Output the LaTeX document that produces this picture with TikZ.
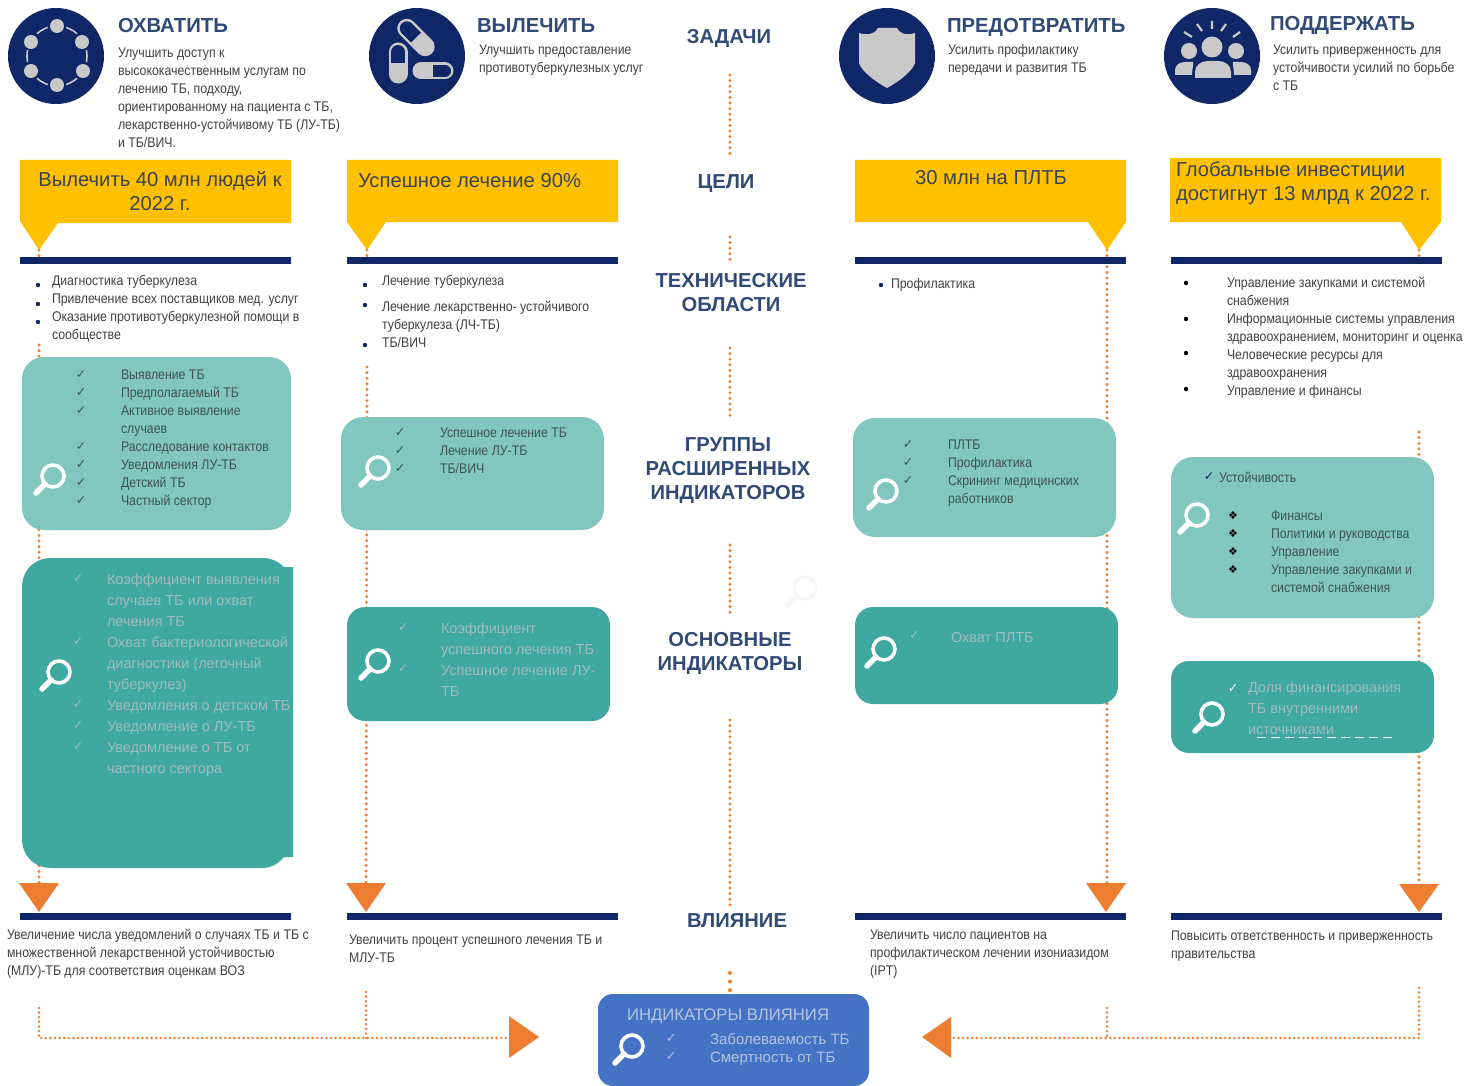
\documentclass[tikz,border=0pt]{standalone}
\usepackage{fontspec}
\setmainfont{Liberation Sans}
\newfontfamily\narrowf[FakeStretch=0.88]{Liberation Sans}
\newfontfamily\markf{DejaVu Sans}
\definecolor{navy}{HTML}{0F2767}
\definecolor{iconGrey}{HTML}{C9C9C9}
\definecolor{headBlue}{HTML}{2F4A75}
\definecolor{bodyGrey}{HTML}{404040}
\definecolor{goldY}{HTML}{FFC000}
\definecolor{orangeA}{HTML}{ED7D31}
\definecolor{tealL}{HTML}{81C6BF}
\definecolor{tealD}{HTML}{3EA8A1}
\definecolor{blueB}{HTML}{4472C4}
\definecolor{onDark}{HTML}{A0BDBA}
\definecolor{onBlue}{HTML}{B4C3E0}
\definecolor{onLight}{HTML}{3F5553}
\definecolor{goldTxt}{HTML}{3A4450}
\tikzset{
  x=1pt,y=-1pt,
  every node/.style={inner sep=0pt,outer sep=0pt},
  lbox/.style={fill=tealL,rounded corners=22pt},
  dbox/.style={fill=tealD,rounded corners=18pt},
  txtline/.style={anchor=north west,align=left,text=bodyGrey,yshift=-1pt,font=\narrowf\fontsize{14}{18}\selectfont},
  onl/.style={txtline,text=onLight},
  ond/.style={anchor=north west,align=left,yshift=-1pt,text=onDark,font=\fontsize{14.5}{21}\selectfont},
  head/.style={anchor=base west,text=headBlue,font=\bfseries\fontsize{20.3}{24}\selectfont},
  centre/.style={align=center,text=headBlue,font=\bfseries\fontsize{20.2}{24}\selectfont},
  goal/.style={text=goldTxt,font=\fontsize{20.2}{24}\selectfont},
  dots/.style={draw=orangeA,line width=3.3pt,line cap=round,dash pattern=on 0pt off 5.6pt},
  wdots/.style={dots,line width=4pt,dash pattern=on 0pt off 8.6pt},
  hdots/.style={dots,line width=2.8pt,dash pattern=on 0pt off 4.6pt},
  bar/.style={fill=navy},
  tri/.style={fill=orangeA},
  pics/lens/.style={code={
    \draw[#1,line width=3.6pt] (2,-2) circle[radius=11];
    \draw[#1,line width=5.5pt,line cap=round] (-6,6) -- (-15,15);
  }}
}
\newcommand{\pbox}[6]{\node[#1,anchor=north west,minimum width={(#5-#3)*1pt},minimum height={(#6-#4)*1pt}] (#2) at (#3,#4) {};}
\newcommand{\tx}[5]{\node[#1] (#2) at (#3,#4) {\strut #5};}
\newcommand{\ck}[4]{\node[text=#1,font=\markf\fontsize{12.5}{14}\selectfont] (#2) at (#3,#4) {✓};}
\newcommand{\dm}[3]{\node[text=black,font=\markf\fontsize{11}{12}\selectfont] (#1) at (#2,#3) {❖};}
\newcommand{\bul}[4]{\node[fill=#1,circle,minimum size=4.4pt] (#2) at (#3,#4) {};}
\newcommand{\pill}[5]{%
 \begin{scope}[shift={(#1,#2)},rotate=#3]
  \draw[iconGrey,line width=#4,line cap=round] (-#5,0) -- (#5,0);
  \draw[navy,line width=#4-5pt] (0,0) -- (#5,0);
  \fill[navy] (#5,0) circle[radius=#4/2-2.5pt];
 \end{scope}}
\begin{document}
\begin{tikzpicture}
\path[use as bounding box] (0,0) rectangle (1466,1086);
% free ends of connectors
\foreach \n/\x/\y in {tipA/39/250,barA/39/262,startA/39/345,triA/39/885,
  tipB/367/250,barB/367/262,startB/367/367,triB/366/885,
  tipC/1107/250,triC/1107/885,
  tipD/1419/250,barD/1419/262,startD/1419/432,triD/1419/885,
  c1/730/75,c2/730/155,c3/730/237,c4/730/262,c5/730/348,c6/730/420,c7/730/545,c8/730/615,
  c9/730/720,c10/730/905,c11/730/973,c12/730/994,
  bA/39/1008,cornA/39/1038,bB/366/992,joinB/366/1038,endL/508/1038,
  bD/1419/988,cornD/1419/1038,bC/1107/1008,joinC/1107/1038,endR/953/1038}
  {\coordinate (\n) at (\x,\y);}
% connectors (behind boxes)
\draw[dots] (tipA) -- (barA);
\draw[dots] (startA) -- (triA);
\draw[dots] (tipB) -- (barB);
\draw[dots] (startB) -- (triB);
\draw[dots] (tipC) -- (triC);
\draw[dots] (tipD) -- (barD);
\draw[dots] (startD) -- (triD);
\draw[dots] (c1) -- (c2);
\draw[dots] (c3) -- (c4);
\draw[dots] (c5) -- (c6);
\draw[dots] (c7) -- (c8);
\draw[dots] (c9) -- (c10);
\draw[wdots] (c11) -- (c12);
\draw[hdots] (bA) -- (cornA) -- (endL);
\draw[hdots] (bB) -- (joinB);
\draw[hdots] (bD) -- (cornD) -- (endR);
\draw[hdots] (bC) -- (joinC);
% icons
\fill[navy] (56,56) circle[radius=48];
\draw[iconGrey,line width=1.6pt] (57,56) circle[radius=30];
\foreach \a in {30,90,150,210,270,330}
  {\fill[navy] (57,56) ++(\a:30) circle[radius=9.5];}
\foreach \p in {(57,26),(82,42),(83,71),(57,85),(31,71),(31,42)}
  {\fill[iconGrey] \p circle[radius=7];}
\fill[navy] (417,56) circle[radius=48];
\pill{416}{37.5}{135}{19pt}{13}
\pill{398}{63}{90}{19pt}{11}
\pill{433}{71}{0}{17pt}{12}
\fill[navy] (887,56) circle[radius=48];
\fill[iconGrey] (859,33) .. controls (868,36) and (876,33) .. (878,28) -- (897,28)
  .. controls (899,33) and (906,36) .. (915,33) -- (915,63)
  .. controls (912,72) and (898,82) .. (887,88)
  .. controls (876,82) and (862,72) .. (859,63) -- cycle;
\fill[navy] (1212,56) circle[radius=48];
\draw[iconGrey,line width=2.2pt] (1212,21) -- (1212,29) (1197,24) -- (1202,31) (1221,31) -- (1226,24) (1184,32) -- (1192,37) (1233,37) -- (1240,32);
\fill[iconGrey] (1212,47) circle[radius=10.5] (1189,51) circle[radius=8] (1236,51) circle[radius=8];
\fill[iconGrey] (1195,78) -- (1195,72) .. controls (1195,65) and (1201,61) .. (1208,61) -- (1218,61) .. controls (1225,61) and (1231,65) .. (1231,72) -- (1231,78) -- cycle;
\fill[iconGrey] (1175,75) -- (1175,70) .. controls (1175,65) and (1180,62) .. (1185,62) -- (1193,62) .. controls (1194,64) and (1192,68) .. (1192,75) -- cycle;
\fill[iconGrey] (1251,75) -- (1251,70) .. controls (1251,65) and (1246,62) .. (1241,62) -- (1233,62) .. controls (1232,64) and (1234,68) .. (1234,75) -- cycle;
% headings
\node[head] (hA) at (118,32.5) {ОХВАТИТЬ};
\node[head] (hB) at (477,32.5) {ВЫЛЕЧИТЬ};
\node[head] (hC) at (947,32.5) {ПРЕДОТВРАТИТЬ};
\node[head] (hD) at (1270,30.5) {ПОДДЕРЖАТЬ};
\tx{txtline}{dA}{118}{44}{Улучшить доступ к\\высококачественным услугам по\\лечению ТБ, подходу,\\ориентированному на пациента с ТБ,\\лекарственно-устойчивому ТБ (ЛУ-ТБ)\\и ТБ/ВИЧ.}
\tx{txtline}{dB}{479}{41}{Улучшить предоставление\\противотуберкулезных услуг}
\tx{txtline}{dC}{948}{41}{Усилить профилактику\\передачи и развития ТБ}
\tx{txtline}{dD}{1273}{41}{Усилить приверженность для\\устойчивости усилий по борьбе\\с ТБ}
% gold callouts
\fill[goldY] (20,160) -- (291,160) -- (291,223) -- (58,223) -- (39,250) -- (20,221) -- cycle;
\fill[goldY] (347,160) -- (618,160) -- (618,222) -- (386,222) -- (367,250) -- (347,222) -- cycle;
\fill[goldY] (855,160) -- (1126,160) -- (1126,222) -- (1107,250) -- (1088,222) -- (855,222) -- cycle;
\fill[goldY] (1170,158) -- (1441,158) -- (1441,222) -- (1419,250) -- (1401,222) -- (1170,222) -- cycle;
\node[goal,align=center] (gA) at (160,191) {Вылечить 40 млн людей к\\2022 г.};
\node[goal,anchor=west] (gB) at (358,181) {Успешное лечение 90\%};
\node[goal] (gC) at (991,178) {30 млн на ПЛТБ};
\node[goal,anchor=west,align=left] (gD) at (1176,183.5) {Глобальные инвестиции\\достигнут 13 млрд к 2022 г.};
% bars
\foreach \n/\a/\b in {tA/20/291,tB/347/618,tC/855/1126,tD/1171/1442}
  {\pbox{bar}{\n}{\a}{257}{\b}{264}}
\foreach \n/\a/\b in {uA/20/291,uB/347/618,uC/855/1126,uD/1171/1442}
  {\pbox{bar}{\n}{\a}{913}{\b}{920}}
% centre labels
\node[centre] (lTasks) at (729,38) {ЗАДАЧИ};
\node[centre] (lGoals) at (726,184) {ЦЕЛИ};
\node[centre] (lTech) at (731,292.5) {ТЕХНИЧЕСКИЕ\\ОБЛАСТИ};
\node[centre] (lGroup) at (728,470.5) {ГРУППЫ\\РАСШИРЕННЫХ\\ИНДИКАТОРОВ};
\node[centre] (lMain) at (730,653) {ОСНОВНЫЕ\\ИНДИКАТОРЫ};
\node[centre] (lImpact) at (737,920.5) {ВЛИЯНИЕ};
% technical-area lists
\bul{navy}{baA}{38}{285}\bul{navy}{baB}{38}{304}\bul{navy}{baC}{38}{322}
\tx{txtline}{aText}{52}{272}{Диагностика туберкулеза\\Привлечение всех поставщиков мед. услуг\\Оказание противотуберкулезной помощи в\\сообществе}
\bul{navy}{bbA}{365}{285}\bul{navy}{bbB}{365}{305}\bul{navy}{bbC}{365}{345}
\tx{txtline}{bTextA}{382}{272}{Лечение туберкулеза}
\tx{txtline}{bTextB}{382}{298}{Лечение лекарственно- устойчивого\\туберкулеза (ЛЧ-ТБ)\\ТБ/ВИЧ}
\bul{navy}{bcA}{881}{285}
\tx{txtline}{cText}{891}{275}{Профилактика}
\bul{black}{bdA}{1186}{283}\bul{black}{bdB}{1186}{319}\bul{black}{bdC}{1186}{353}\bul{black}{bdD}{1186}{389}
\tx{txtline}{dText}{1227}{274}{Управление закупками и системой\\снабжения\\Информационные системы управления\\здравоохранением, мониторинг и оценка\\Человеческие ресурсы для\\здравоохранения\\Управление и финансы}
% light boxes
\pbox{lbox}{lA}{22}{357}{291}{530}
\pbox{lbox}{lB}{341}{417}{604}{530}
\pbox{lbox}{lC}{853}{418}{1116}{537}
\pbox{lbox}{lD}{1171}{457}{1434}{618}
\foreach \i/\y in {1/375,2/393,3/411,4/447,5/465,6/483,7/501}{\ck{onLight}{ckA\i}{81}{\y}}
\tx{onl}{lAt}{121}{366}{Выявление ТБ\\Предполагаемый ТБ\\Активное выявление\\случаев\\Расследование контактов\\Уведомления ЛУ-ТБ\\Детский ТБ\\Частный сектор}
\foreach \i/\y in {1/433,2/451,3/469}{\ck{onLight}{ckB\i}{400}{\y}}
\tx{onl}{lBt}{440}{424}{Успешное лечение ТБ\\Лечение ЛУ-ТБ\\ТБ/ВИЧ}
\foreach \i/\y in {1/445,2/463,3/481}{\ck{onLight}{ckC\i}{908}{\y}}
\tx{onl}{lCt}{948}{436}{ПЛТБ\\Профилактика\\Скрининг медицинских\\работников}
\ck{navy}{ckD}{1209}{477}
\tx{onl}{lDa}{1219}{469}{Устойчивость}
\foreach \i/\y in {1/516,2/534,3/552,4/570}{\dm{dmD\i}{1233}{\y}}
\tx{onl}{lDt}{1271}{507}{Финансы\\Политики и руководства\\Управление\\Управление закупками и\\системой снабжения}
% dark boxes
\fill[tealD] (52,558) -- (262,558) .. controls (272,558) and (279,562) .. (284,567) -- (293,567) -- (293,857) -- (284,857) .. controls (279,863) and (272,868) .. (262,868) -- (52,868) .. controls (34,868) and (22,856) .. (22,838) -- (22,588) .. controls (22,570) and (34,558) .. (52,558) -- cycle;
\coordinate (dA) at (22,558);
\pbox{dbox}{dBx}{347}{607}{610}{721}
\pbox{dbox}{dCx}{855}{607}{1118}{704}
\pbox{dbox}{dDx}{1171}{661}{1434}{753}
\foreach \i/\y in {1/579,2/642,3/705,4/726,5/747}{\ck{onDark}{ckE\i}{78}{\y}}
\tx{ond}{dAt}{107}{568.5}{Коэффициент выявления\\случаев ТБ или охват\\лечения ТБ\\Охват бактериологической\\диагностики (легочный\\туберкулез)\\Уведомления о детском ТБ\\Уведомление о ЛУ-ТБ\\Уведомление о ТБ от\\частного сектора}
\ck{onDark}{ckF1}{403}{628}\ck{onDark}{ckF2}{403}{669}
\tx{ond}{dBt}{441}{617.5}{Коэффициент\\успешного лечения ТБ\\Успешное лечение ЛУ-\\ТБ}
\ck{onDark}{ckG}{914}{636}
\tx{ond}{dCt}{951}{626.5}{Охват ПЛТБ}
\ck{white}{ckH}{1233}{689}
\tx{ond}{dDt}{1248}{676.5}{Доля финансирования\\ТБ внутренними\\источниками}
\draw[white,line width=0.7pt,dash pattern=on 9pt off 5pt] (1257,737.5) -- (1395,737.5);
% blue box
\pbox{fill=blueB,rounded corners=15pt}{impactBox}{598}{994}{869}{1086}
\node[anchor=west,text=onBlue,font=\fontsize{16.7}{20}\selectfont] (iTitle) at (627,1016) {ИНДИКАТОРЫ ВЛИЯНИЯ};
\ck{onBlue}{ckI1}{671}{1039}\ck{onBlue}{ckI2}{671}{1057}
\tx{anchor=north west,align=left,text=onBlue,yshift=-2pt,font=\fontsize{15}{18}\selectfont}{iText}{710}{1030}{Заболеваемость ТБ\\Смертность от ТБ}
% lenses
\foreach \x/\y in {51/478,57/674,376/470,376/663,884/493,882/651,1195/517,1210/716,630/1048}
  {\pic at (\x,\y) {lens=white};}
\pic at (803,590) {lens={gray!6}};
% triangles
\fill[tri] (19,883) -- (59,883) -- (39,912) -- cycle;
\fill[tri] (346,883) -- (386,883) -- (366,912) -- cycle;
\fill[tri] (1086,883) -- (1126,883) -- (1106,912) -- cycle;
\fill[tri] (1399,884) -- (1439,884) -- (1419,912) -- cycle;
\fill[tri] (509,1016) -- (509,1058) -- (539,1037) -- cycle;
\fill[tri] (951,1017) -- (951,1058) -- (922,1037) -- cycle;
% impact texts
\tx{txtline}{iA}{7}{926}{Увеличение числа уведомлений о случаях ТБ и ТБ с\\множественной лекарственной устойчивостью\\(МЛУ)-ТБ для соответствия оценкам ВОЗ}
\tx{txtline}{iB}{349}{931}{Увеличить процент успешного лечения ТБ и\\МЛУ-ТБ}
\tx{txtline}{iC}{870}{926}{Увеличить число пациентов на\\профилактическом лечении изониазидом\\(IPT)}
\tx{txtline}{iD}{1171}{927}{Повысить ответственность и приверженность\\правительства}
\end{tikzpicture}
\end{document}
